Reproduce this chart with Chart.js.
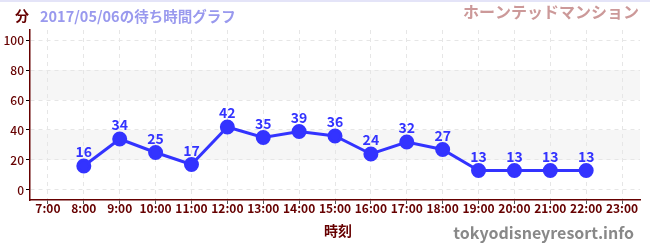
<!DOCTYPE html>
<html>
<head>
<meta charset="utf-8">
<script src="https://cdn.jsdelivr.net/npm/chart.js@4"></script>
<style>
  body { margin: 0; background: #fff; }
  #wrap { width: 650px; height: 250px; }
</style>
</head>
<body>
<div id="wrap"><canvas id="my-chart"></canvas></div>
<script>
'use strict'
///data///
let hours = [8, 9, 10, 11, 12, 13, 14, 15, 16, 17, 18, 19, 20, 21, 22]
let waits = [16, 34, 25, 17, 42, 35, 39, 36, 24, 32, 27, 13, 13, 13, 13]
let hourTicks = [7, 8, 9, 10, 11, 12, 13, 14, 15, 16, 17, 18, 19, 20, 21, 22, 23]
let yTicks = [0, 10, 20, 30, 40, 50, 60, 70, 80, 90, 100]
let bands = [[20, 40], [60, 80]]

let font = '"Noto Sans CJK JP", "Noto Sans", sans-serif'
let dark = '#660000'
let ctx = document.getElementById('my-chart').getContext('2d')

//bands + top line + texts
let decor = {
  id: 'decor',
  beforeDraw(chart) {
    let c = chart.ctx
    let x = chart.scales.x
    let y = chart.scales.y
    c.save()
    c.fillStyle = '#f6f6f6'
    bands.forEach(b => {
      let t = y.getPixelForValue(b[1])
      let btm = y.getPixelForValue(b[0])
      c.fillRect(x.left, t, x.right - x.left, btm - t)
    })
    c.fillStyle = '#e4e4f8'
    c.fillRect(0, 0, chart.width, 2)
    c.restore()
  },
  afterDraw(chart) {
    let c = chart.ctx
    let x = chart.scales.x
    let y = chart.scales.y
    c.save()
    //point labels
    c.fillStyle = '#3333ff'
    c.font = 'bold 14px ' + font
    c.textAlign = 'center'
    c.textBaseline = 'bottom'
    for (let i = 0; i < hours.length; i++) {
      c.fillText(String(waits[i]), x.getPixelForValue(hours[i]), y.getPixelForValue(waits[i]) - 7)
    }
    c.textBaseline = 'middle'
    c.textAlign = 'left'
    c.fillStyle = dark
    c.font = 'bold 14px ' + font
    c.fillText('分', 15, 16)
    c.fillStyle = '#9999ee'
    c.font = 'bold 14.5px ' + font
    c.fillText('2017/05/06の待ち時間グラフ', 40, 16)
    c.textAlign = 'right'
    c.fillStyle = '#cc9999'
    c.font = 'bold 16px ' + font
    c.fillText('ホーンテッドマンション', 639, 12)
    c.fillStyle = '#888888'
    c.font = 'bold 16px ' + font
    c.fillText('tokyodisneyresort.info', 634, 233)
    c.textAlign = 'center'
    c.fillStyle = dark
    c.font = 'bold 14px ' + font
    c.fillText('時刻', 338, 231)
    c.restore()
  }
}

let chartObject = {
  type: 'line',
  data: {
    datasets: [{
      data: hours.map((h, i) => ({ x: h, y: waits[i] })),
      borderColor: '#3333ff',
      backgroundColor: '#3333ff',
      borderWidth: 3,
      pointRadius: 6,
      pointHoverRadius: 6,
      tension: 0
    }]
  },
  options: {
    responsive: false,
    animation: false,
    events: [],
    layout: { padding: { left: 0, top: 30, right: 10, bottom: 30 } },
    plugins: { legend: { display: false }, tooltip: { enabled: false } },
    scales: {
      x: {
        type: 'linear',
        min: 6.5,
        max: 23.5,
        afterBuildTicks: s => { s.ticks = hourTicks.map(v => ({ value: v })) },
        afterFit: s => { s.height = 20 },
        border: { color: dark, width: 1.5, dash: [4, 4] },
        grid: { color: '#e6e6e6', tickColor: '#555555', tickLength: 4, lineWidth: 1 },
        ticks: {
          color: dark,
          font: { family: font, size: 12, weight: 'bold' },
          padding: -3,
          maxRotation: 0,
          autoSkip: false,
          callback: v => v + ':00'
        }
      },
      y: {
        min: -6.67,
        max: 106.67,
        afterBuildTicks: s => { s.ticks = yTicks.map(v => ({ value: v })) },
        afterFit: s => { s.width = 30 },
        border: { color: dark, width: 1.5, dash: [4, 4] },
        grid: {
          color: c => c.tick && c.tick.value % 20 === 0 ? '#e6e6e6' : 'rgba(0,0,0,0)',
          tickColor: c => c.tick && c.tick.value % 20 === 0 ? '#000000' : '#dd2222',
          tickLength: 4,
          lineWidth: 1
        },
        ticks: {
          color: dark,
          font: { family: font, size: 12, weight: '500' },
          padding: 2,
          callback: v => v % 20 === 0 ? String(v) : ''
        }
      }
    }
  },
  plugins: [decor]
}

let canvas = document.getElementById('my-chart')
canvas.width = 650
canvas.height = 250
const myChart = new Chart(ctx, chartObject)
</script>
</body>
</html>
